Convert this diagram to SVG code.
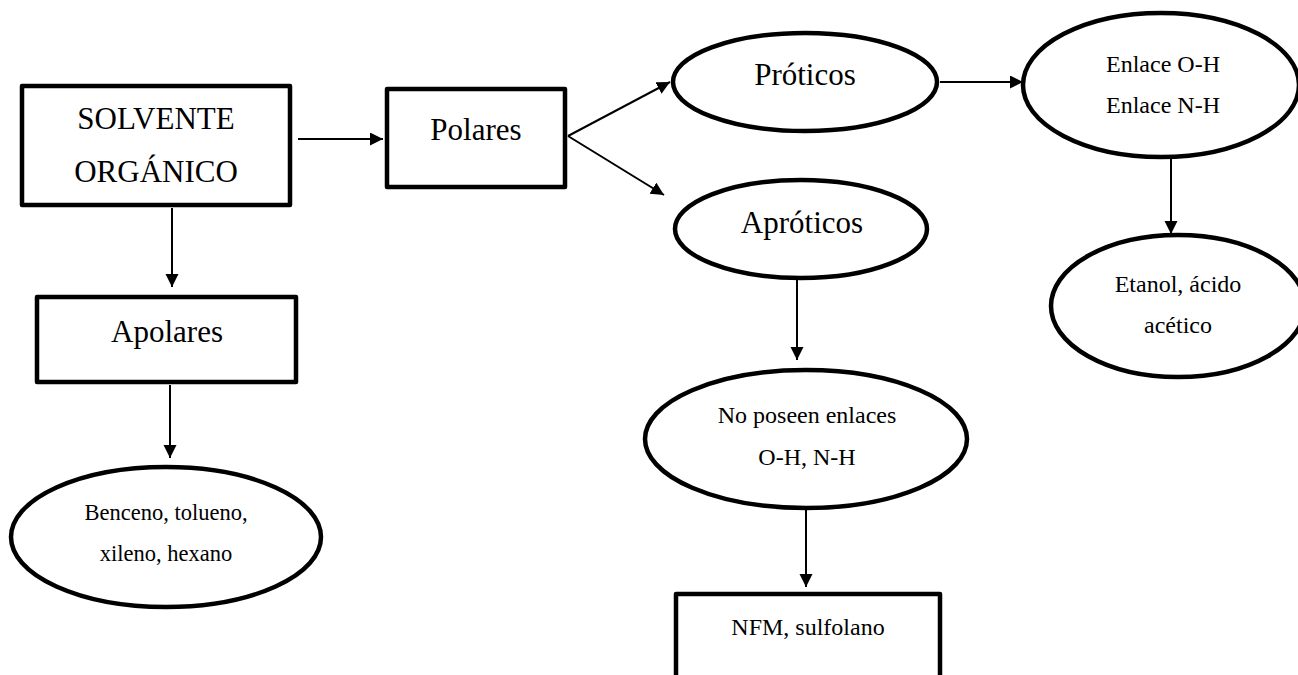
<svg xmlns="http://www.w3.org/2000/svg" width="1298" height="675" viewBox="0 0 1298 675">
<style>
.shape{fill:#fff;stroke:#000;stroke-width:4.5;stroke-linejoin:round}
.big{font-family:"Liberation Serif","Times New Roman",serif;font-size:31px;fill:#000;text-anchor:middle}
.small{font-family:"Liberation Serif","Times New Roman",serif;font-size:24px;fill:#000;text-anchor:middle}
.conn{stroke:#000;stroke-width:2;fill:none;marker-end:url(#ah)}
</style>
<defs>
<marker id="ah" markerUnits="userSpaceOnUse" markerWidth="14" markerHeight="14" refX="13" refY="6.5" orient="auto">
<path d="M0,0 L13,6.5 L0,13 z" fill="#000"/>
</marker>
</defs>
<rect width="1298" height="675" fill="#fff"/>
<g id="connectors">
<line class="conn" x1="298" y1="139" x2="383" y2="139"/>
<line class="conn" x1="172" y1="208" x2="172" y2="287"/>
<line class="conn" x1="170" y1="385" x2="170" y2="458"/>
<line class="conn" x1="568" y1="136" x2="670" y2="82"/>
<line class="conn" x1="568" y1="136" x2="664" y2="195"/>
<line class="conn" x1="940" y1="82" x2="1023" y2="82"/>
<line class="conn" x1="1171" y1="159" x2="1171" y2="234"/>
<line class="conn" x1="797" y1="280" x2="797" y2="360"/>
<line class="conn" x1="806" y1="507" x2="806" y2="587"/>
</g>
<g id="solvente">
<rect class="shape" x="22" y="86" width="268" height="119"/>
<text class="big" x="156" y="129">SOLVENTE</text>
<text class="big" x="156" y="182">ORGÁNICO</text>
</g>
<g id="polares">
<rect class="shape" x="387" y="89" width="178" height="98"/>
<text class="big" x="476" y="140">Polares</text>
</g>
<g id="apolares">
<rect class="shape" x="37" y="297" width="259" height="85"/>
<text class="big" x="167" y="342">Apolares</text>
</g>
<g id="benceno">
<ellipse class="shape" cx="166" cy="537" rx="155" ry="70"/>
<text class="small" x="166" y="520" style="font-size:22.5px">Benceno, tolueno,</text>
<text class="small" x="166" y="561" style="font-size:22.5px">xileno, hexano</text>
</g>
<g id="proticos">
<ellipse class="shape" cx="805" cy="82" rx="132" ry="49"/>
<text class="big" x="805" y="85">Próticos</text>
</g>
<g id="enlace">
<ellipse class="shape" cx="1161" cy="85" rx="138" ry="72"/>
<text class="small" x="1163" y="72">Enlace O-H</text>
<text class="small" x="1163" y="113">Enlace N-H</text>
</g>
<g id="etanol">
<ellipse class="shape" cx="1178" cy="306" rx="127" ry="71"/>
<text class="small" x="1178" y="292">Etanol, ácido</text>
<text class="small" x="1178" y="333">acético</text>
</g>
<g id="aproticos">
<ellipse class="shape" cx="801" cy="229" rx="126" ry="49"/>
<text class="big" x="802" y="233">Apróticos</text>
</g>
<g id="noposeen">
<ellipse class="shape" cx="806" cy="439" rx="161" ry="69"/>
<text class="small" x="807" y="423">No poseen enlaces</text>
<text class="small" x="807" y="465">O-H, N-H</text>
</g>
<g id="nfm">
<rect class="shape" x="676" y="594" width="264" height="90"/>
<text class="small" x="808" y="635">NFM, sulfolano</text>
</g>
</svg>
